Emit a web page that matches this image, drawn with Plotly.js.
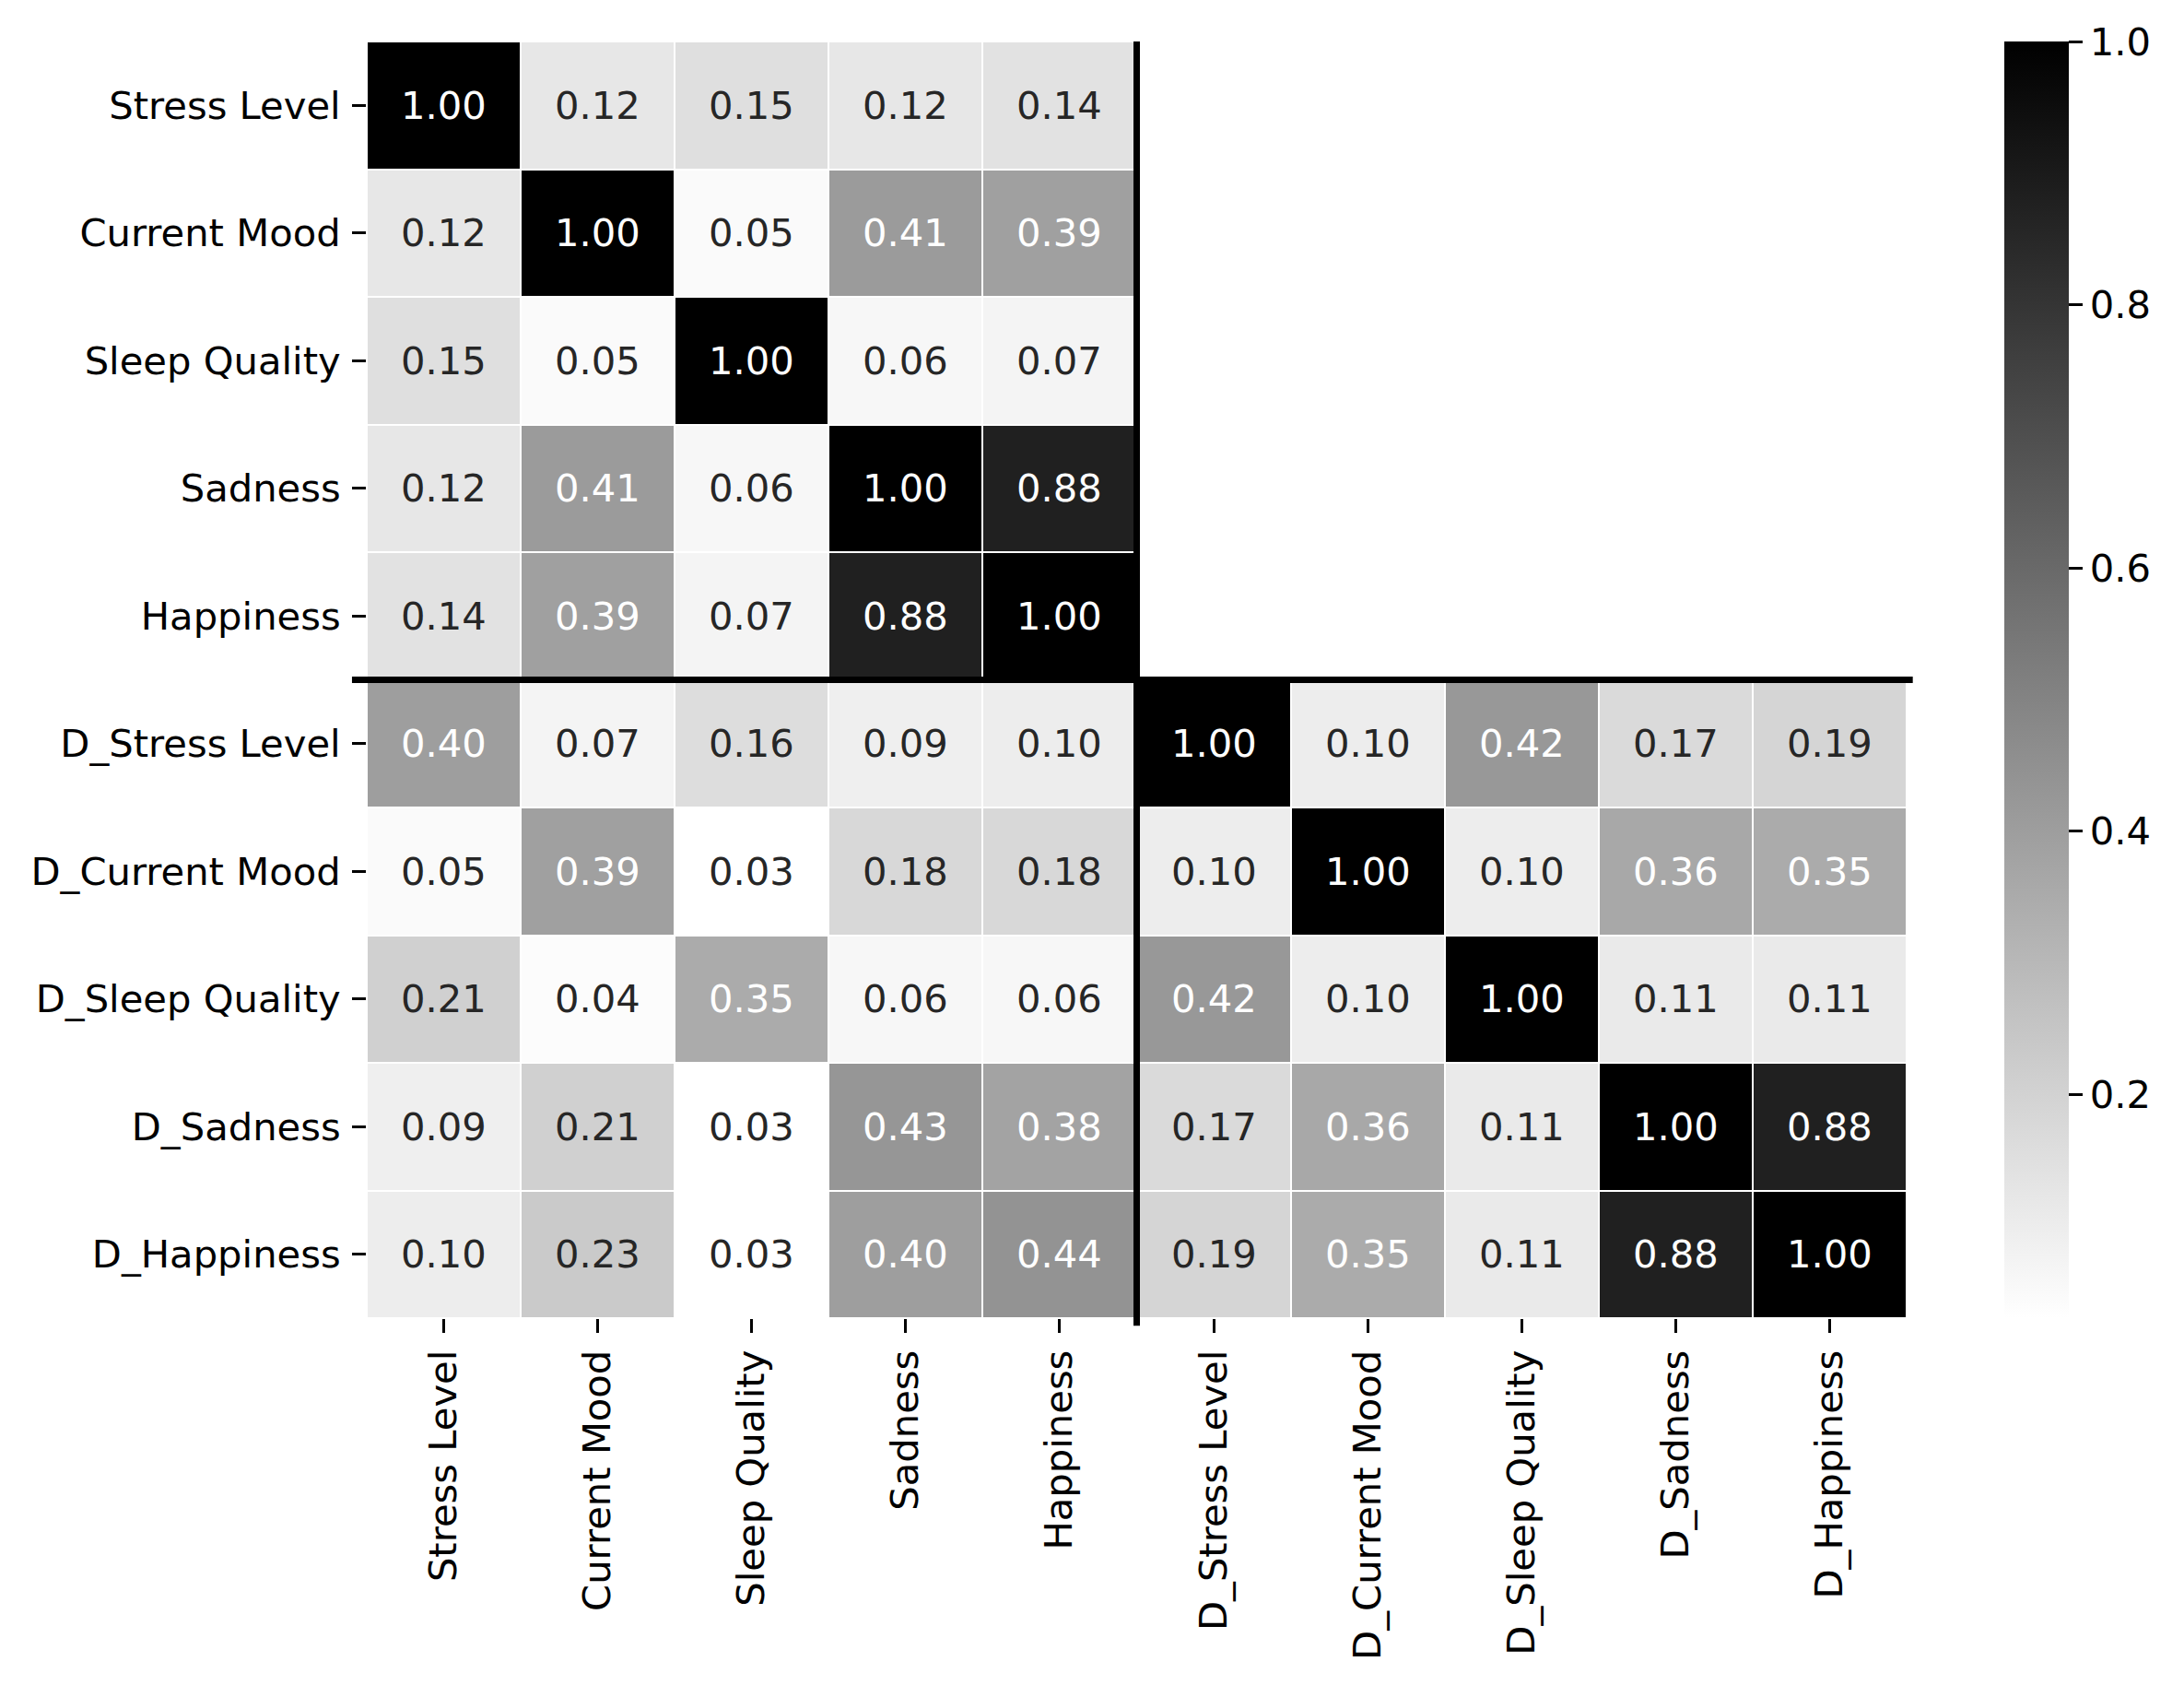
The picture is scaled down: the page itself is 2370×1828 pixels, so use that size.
<!DOCTYPE html>
<html>
<head>
<meta charset="utf-8">
<script src="https://cdn.plot.ly/plotly-3.0.1.min.js"></script>
<style>html,body{margin:0;padding:0;background:#fff;}#chart{width:2370px;height:1828px;}</style>
</head>
<body>
<div id="chart"></div>
<script>
// ---- data ----
const categories = ["Stress Level","Current Mood","Sleep Quality","Sadness","Happiness",
                    "D_Stress Level","D_Current Mood","D_Sleep Quality","D_Sadness","D_Happiness"];
const rowStressLevel    = [1.00, 0.12, 0.15, 0.12, 0.14, null, null, null, null, null];
const rowCurrentMood    = [0.12, 1.00, 0.05, 0.41, 0.39, null, null, null, null, null];
const rowSleepQuality   = [0.15, 0.05, 1.00, 0.06, 0.07, null, null, null, null, null];
const rowSadness        = [0.12, 0.41, 0.06, 1.00, 0.88, null, null, null, null, null];
const rowHappiness      = [0.14, 0.39, 0.07, 0.88, 1.00, null, null, null, null, null];
const rowDStressLevel   = [0.40, 0.07, 0.16, 0.09, 0.10, 1.00, 0.10, 0.42, 0.17, 0.19];
const rowDCurrentMood   = [0.05, 0.39, 0.03, 0.18, 0.18, 0.10, 1.00, 0.10, 0.36, 0.35];
const rowDSleepQuality  = [0.21, 0.04, 0.35, 0.06, 0.06, 0.42, 0.10, 1.00, 0.11, 0.11];
const rowDSadness       = [0.09, 0.21, 0.03, 0.43, 0.38, 0.17, 0.36, 0.11, 1.00, 0.88];
const rowDHappiness     = [0.10, 0.23, 0.03, 0.40, 0.44, 0.19, 0.35, 0.11, 0.88, 1.00];
const colorbarTicks = [0.2, 0.4, 0.6, 0.8, 1.0];
const zMin = 0.03, zMax = 1.0;
const blockSplit = 5; // first 5 variables vs D_ variables

const z = [rowStressLevel,rowCurrentMood,rowSleepQuality,rowSadness,rowHappiness,
           rowDStressLevel,rowDCurrentMood,rowDSleepQuality,rowDSadness,rowDHappiness];

const FONT = "DejaVu Sans, Liberation Sans, sans-serif";
const FS = 41.7;
const N = categories.length;

function textColor(v){
  const g = 1 - (v - zMin)/(zMax - zMin);
  const lin = g <= 0.03928 ? g/12.92 : Math.pow((g+0.055)/1.055, 2.4);
  return lin > 0.408 ? "#262626" : "#ffffff";
}

const annotations = [];
z.forEach((row, i) => row.forEach((v, j) => {
  if (v === null) return;
  annotations.push({
    x: categories[j], y: categories[i], xref: "x", yref: "y",
    text: v.toFixed(2), showarrow: false,
    font: {family: FONT, size: FS, color: textColor(v)}
  });
}));

const trace = {
  type: "heatmap",
  x: categories, y: categories, z: z,
  zmin: zMin, zmax: zMax,
  colorscale: [[0, "#ffffff"], [1, "#000000"]],
  xgap: 2, ygap: 2,
  hoverongaps: false,
  colorbar: {
    x: 1.0634, xanchor: "left", xpad: 0, ypad: 0,
    y: 0.5, yanchor: "middle", len: 1, lenmode: "fraction",
    thickness: 70, thicknessmode: "pixels",
    outlinewidth: 0,
    tickvals: colorbarTicks, ticktext: colorbarTicks.map(v => v.toFixed(1)),
    ticks: "outside", ticklen: 15, tickwidth: 3, tickcolor: "#000",
    tickfont: {family: FONT, size: FS, color: "#000"}
  }
};

const split = blockSplit - 0.5;

const layout = {
  width: 2370, height: 1828,
  margin: {l: 398, r: 301, t: 45, b: 398, pad: 0, autoexpand: false},
  paper_bgcolor: "#ffffff", plot_bgcolor: "#ffffff",
  font: {family: FONT, size: FS, color: "#000"},
  xaxis: {
    type: "category", range: [-0.5, N - 0.5], autorange: false,
    showgrid: false, zeroline: false, showline: false, automargin: false,
    ticks: "outside", ticklen: 15, tickwidth: 3, tickcolor: "#000",
    tickangle: -90, ticklabelstandoff: 2,
    tickfont: {family: FONT, size: FS, color: "#000"}
  },
  yaxis: {
    type: "category", range: [N - 0.5, -0.5], autorange: false,
    showgrid: false, zeroline: false, showline: false, automargin: false,
    ticks: "outside", ticklen: 15, tickwidth: 3, tickcolor: "#000",
    ticklabelstandoff: 4,
    tickfont: {family: FONT, size: FS, color: "#000"}
  },
  shapes: [
    {type: "line", xref: "paper", yref: "y", x0: -0.0096, x1: 1.004, y0: split, y1: split,
     line: {color: "#000", width: 7}},
    {type: "line", xref: "x", yref: "paper", x0: split, x1: split, y0: 1, y1: -0.006,
     line: {color: "#000", width: 7}}
  ],
  annotations: annotations
};

Plotly.newPlot("chart", [trace], layout, {displayModeBar: false, staticPlot: true});
</script>
</body>
</html>
